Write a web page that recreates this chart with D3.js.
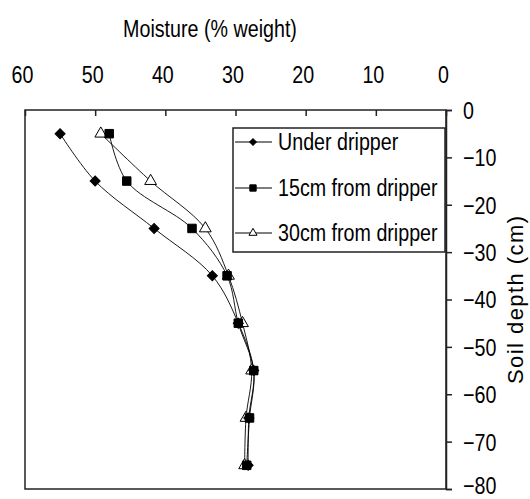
<!DOCTYPE html>
<html>
<head>
<meta charset="utf-8">
<script src="https://cdn.jsdelivr.net/npm/d3@7"></script>
<style>
  body { margin: 0; background: #fff; }
  svg { display: block; }
  text { font-family: "Liberation Sans", Arial, sans-serif; fill: #000; }
</style>
</head>
<body>
<div id="chart"></div>
<script>
// Data
const depths = [-5, -15, -25, -35, -45, -55, -65, -75];
const underDripper = [55.0, 50.0, 41.6, 33.3, 29.6, 27.4, 28.1, 28.2];
const from15cm = [48.0, 45.5, 36.2, 31.2, 29.6, 27.4, 28.0, 28.4];
const from30cm = [49.2, 42.1, 34.3, 31.0, 29.0, 27.7, 28.5, 28.7];
const seriesNames = ["Under dripper", "15cm from dripper", "30cm from dripper"];
const xTicks = [60, 50, 40, 30, 20, 10, 0];
const yTicks = [0, -10, -20, -30, -40, -50, -60, -70, -80];

(function () {
const W = 530, H = 499;
const SX = 0.82; // horizontal condensing of the narrow font
const svg = d3.select("#chart").append("svg").attr("width", W).attr("height", H);

const pL = 25, pR = 446, pT = 110, pB = 489;
const x = d3.scaleLinear().domain([60, 0]).range([pL, pR]);
const y = d3.scaleLinear().domain([0, -80]).range([pT, pB]);

// plot frame
svg.append("rect").attr("x", pL).attr("y", pT).attr("width", pR - pL).attr("height", pB - pT)
  .attr("fill", "none").attr("stroke", "#222").attr("stroke-width", 1.5);

// top x axis (ticks inside)
const xAxis = svg.append("g").attr("transform", `translate(0,${pT})`)
  .call(d3.axisTop(x).tickValues(xTicks).tickSize(-6).tickFormat(d3.format("d")));
xAxis.select(".domain").remove();
xAxis.selectAll(".tick line").attr("stroke", "#222").attr("stroke-width", 1.5);
xAxis.selectAll(".tick text").attr("font-size", 24).attr("x", 0).attr("y", 0).attr("dy", 0)
  .attr("transform", `translate(-3,-27) scale(${SX},1)`)
  .style("font-family", "'Liberation Sans', sans-serif");

// right y axis
const yAxis = svg.append("g").attr("transform", `translate(${pR},0)`)
  .call(d3.axisRight(y).tickValues(yTicks).tickSize(6).tickFormat(d3.format("d")));
yAxis.select(".domain").attr("stroke", "#222").attr("stroke-width", 1.5);
yAxis.selectAll(".tick line").attr("stroke", "#222").attr("stroke-width", 1.5);
yAxis.selectAll(".tick text").attr("font-size", 24).attr("x", 0)
  .attr("dy", d => d === -80 ? "0.2em" : "0.35em")
  .attr("text-anchor", "start")
  .attr("transform", `translate(17,0) scale(${SX},1)`)
  .style("font-family", "'Liberation Sans', sans-serif");

// titles
svg.append("text").attr("transform", `translate(210,37) scale(${SX},1)`).attr("text-anchor", "middle")
  .attr("font-size", 24).text("Moisture (% weight)");
svg.append("text").attr("transform", `translate(523,300) rotate(-90)`).attr("text-anchor", "middle")
  .attr("font-size", 22).attr("textLength", 168).attr("lengthAdjust", "spacing").text("Soil depth (cm)");

// series
const series = [underDripper, from15cm, from30cm].map((vals, i) => ({
  name: seriesNames[i], pts: vals.map((v, j) => ({ v, d: depths[j] }))
}));

const line = d3.line().x(p => x(p.v)).y(p => y(p.d)).curve(d3.curveCatmullRom.alpha(0.5));

const symbols = [d3.symbolSquare, d3.symbolSquare, d3.symbolTriangle];
const rots = [45, 0, 0];
const sizes = [50, 72, 60];
const fills = ["#000", "#000", "#fff"];

series.forEach((s, i) => {
  svg.append("path").datum(s.pts).attr("d", line)
    .attr("fill", "none").attr("stroke", "#000").attr("stroke-width", 0.9);
});
[2, 1, 0].forEach(i => {
  const s = series[i];
  svg.append("g").selectAll("path").data(s.pts).join("path")
    .attr("transform", p => `translate(${x(p.v)},${y(p.d)}) rotate(${rots[i]})`)
    .attr("d", d3.symbol().type(symbols[i]).size(sizes[i]))
    .attr("fill", fills[i]).attr("stroke", "#000").attr("stroke-width", 1);
});

// legend
const lg = svg.append("g");
lg.append("rect").attr("x", 233).attr("y", 128).attr("width", 212).attr("height", 124)
  .attr("fill", "#fff").attr("stroke", "#222").attr("stroke-width", 1.5);
const rows = [142, 188, 233];
const lsizes = [22, 40, 28];
series.forEach((s, i) => {
  const g = lg.append("g").attr("transform", `translate(0,${rows[i]})`);
  g.append("line").attr("x1", 235).attr("x2", 272).attr("y1", 0).attr("y2", 0)
    .attr("stroke", "#000").attr("stroke-width", 1.2);
  g.append("path").attr("transform", `translate(253,0) rotate(${rots[i]})`)
    .attr("d", d3.symbol().type(symbols[i]).size(lsizes[i]))
    .attr("fill", fills[i]).attr("stroke", "#000").attr("stroke-width", 1);
  g.append("text").attr("transform", `translate(278,8) scale(${SX},1)`)
    .attr("font-size", 24).text(s.name);
});
})();
</script>
</body>
</html>
